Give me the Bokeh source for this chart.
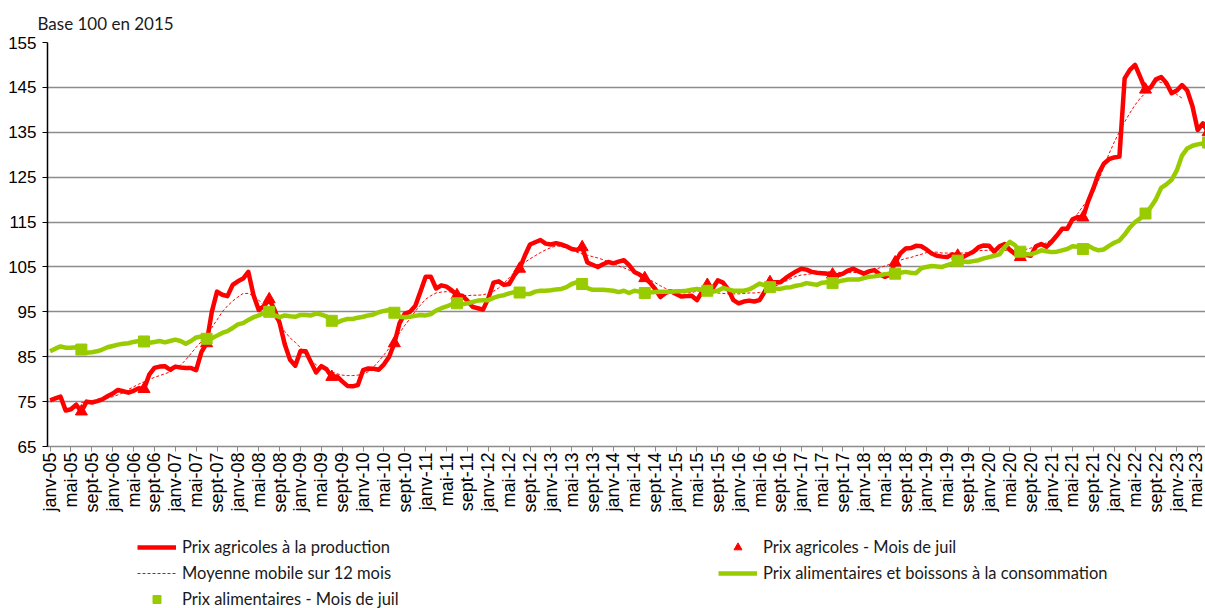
import math
from bokeh.plotting import figure
from bokeh.layouts import column
from bokeh.models import Range1d, FixedTicker, Legend, LegendItem
from bokeh.embed import file_html
from bokeh.resources import INLINE

# ---------------- data (monthly, janv-05 ... juil-23) ----------------
x_labels = [
    "janv-05", "mai-05", "sept-05", "janv-06", "mai-06", "sept-06",
    "janv-07", "mai-07", "sept-07", "janv-08", "mai-08", "sept-08",
    "janv-09", "mai-09", "sept-09", "janv-10", "mai-10", "sept-10",
    "janv-11", "mai-11", "sept-11", "janv-12", "mai-12", "sept-12",
    "janv-13", "mai-13", "sept-13", "janv-14", "mai-14", "sept-14",
    "janv-15", "mai-15", "sept-15", "janv-16", "mai-16", "sept-16",
    "janv-17", "mai-17", "sept-17", "janv-18", "mai-18", "sept-18",
    "janv-19", "mai-19", "sept-19", "janv-20", "mai-20", "sept-20",
    "janv-21", "mai-21", "sept-21", "janv-22", "mai-22", "sept-22",
    "janv-23", "mai-23",
]

y_ticks = [65, 75, 85, 95, 105, 115, 125, 135, 145, 155]

# Prix agricoles a la production
prod = [
    75.3, 75.7, 76.1, 73.0, 73.3, 74.3, 72.8, 75.0, 74.8, 75.1, 75.5, 76.2,
    76.8, 77.6, 77.3, 77.0, 77.4, 78.0, 77.8, 81.0, 82.5, 82.8, 82.9, 82.1,
    82.8, 82.6, 82.5, 82.5, 82.0, 86.0, 88.0, 95.0, 99.5, 98.8, 98.5, 101.0,
    101.8, 102.4, 103.9, 98.7, 95.4, 96.3, 97.8, 95.5, 92.5, 87.7, 84.3, 83.0,
    86.3, 86.2, 83.8, 81.5, 82.9, 82.2, 80.5, 80.6, 79.5, 78.5, 78.4, 78.7,
    82.0, 82.4, 82.3, 82.1, 83.3, 85.0, 88.0, 92.5, 94.6, 95.0, 96.3, 99.5,
    102.8, 102.8, 100.2, 100.9, 100.6, 99.8, 98.7, 98.6, 97.5, 96.1, 95.8, 95.5,
    98.0, 101.5, 101.8, 101.0, 101.2, 103.2, 104.6, 107.5, 110.0, 110.5, 111.0, 110.2,
    110.0, 110.3, 110.0, 109.6, 109.0, 108.8, 109.4, 106.0, 105.5, 105.0, 105.6, 106.1,
    105.8, 106.2, 106.5, 105.4, 103.9, 103.3, 102.5, 101.5, 100.1, 98.3, 99.2, 99.6,
    99.0, 98.4, 98.5, 98.6, 97.6, 99.5, 101.0, 100.2, 102.0, 101.5, 100.0, 97.6,
    96.9, 97.3, 97.5, 97.3, 97.6, 99.5, 101.6, 101.6, 101.6, 102.5, 103.3, 104.0,
    104.6, 104.4, 103.9, 103.7, 103.6, 103.5, 103.3, 103.1, 103.5, 104.2, 104.6, 104.0,
    103.5, 104.0, 104.3, 103.4, 102.8, 103.3, 106.0, 108.0, 109.1, 109.2, 109.7, 109.6,
    108.9, 108.0, 107.5, 107.3, 107.2, 107.8, 107.5, 107.2, 107.8, 108.4, 109.4, 109.8,
    109.7, 108.4, 109.6, 110.1, 108.8, 107.9, 107.2, 107.7, 107.5, 109.6, 110.1, 109.5,
    110.6, 112.0, 113.5, 113.5, 115.6, 116.1, 116.0, 119.6, 122.5, 125.8, 128.0, 129.0,
    129.4, 129.6, 147.0, 148.9, 150.0, 147.3, 144.5, 145.0, 146.8, 147.3, 146.0, 143.7,
    144.3, 145.5, 144.3, 140.8, 135.5, 137.0, 135.0,
]

# Prix alimentaires et boissons a la consommation
conso = [
    86.2, 86.8, 87.3, 87.0, 87.0, 87.1, 86.6, 85.9, 86.0, 86.2, 86.6, 87.1,
    87.4, 87.7, 87.9, 88.0, 88.3, 88.5, 88.4, 88.1, 88.3, 88.5, 88.2, 88.5,
    88.8, 88.5, 87.9, 88.5, 89.3, 89.5, 89.0, 89.1, 89.7, 90.3, 90.7, 91.4,
    92.2, 92.5, 93.2, 93.8, 94.2, 94.8, 95.0, 94.3, 93.8, 94.2, 94.0, 93.9,
    94.3, 94.3, 94.2, 94.6, 94.4, 94.0, 93.0, 92.6, 93.1, 93.4, 93.4, 93.7,
    93.9, 94.2, 94.4, 94.9, 95.2, 95.4, 94.8, 93.9, 93.8, 93.9, 94.1, 94.3,
    94.2, 94.5, 95.3, 95.8, 96.2, 96.7, 96.9, 96.7, 96.9, 97.2, 97.5, 97.6,
    97.6, 98.1, 98.5, 98.7, 99.1, 99.4, 99.3, 99.0, 99.0, 99.5, 99.7, 99.7,
    99.8, 100.0, 100.1, 100.5, 101.2, 101.6, 101.2, 100.3, 99.9, 99.9, 99.9, 99.8,
    99.7, 99.4, 99.7, 99.2, 99.7, 99.5, 99.2, 99.3, 99.4, 99.5, 99.5, 99.5,
    99.6, 99.6, 99.7, 99.9, 100.1, 99.9, 99.7, 99.5, 99.7, 100.3, 100.0, 99.7,
    99.7, 99.7, 100.0, 100.6, 101.3, 100.9, 100.5, 100.2, 100.1, 100.4, 100.5, 100.8,
    101.0, 101.4, 101.2, 101.0, 101.5, 101.6, 101.4, 101.7, 102.0, 102.2, 102.2, 102.2,
    102.5, 102.8, 102.9, 103.1, 103.4, 103.5, 103.5, 103.7, 103.9, 103.7, 103.6, 104.7,
    105.0, 105.2, 105.1, 105.0, 105.4, 105.8, 106.4, 106.2, 106.1, 106.3, 106.5, 106.9,
    107.2, 107.5, 107.8, 109.4, 110.6, 109.8, 108.4, 107.9, 107.8, 108.2, 108.7, 108.5,
    108.3, 108.4, 108.7, 109.0, 109.6, 109.5, 109.0, 109.7, 109.1, 108.7, 108.9, 109.7,
    110.4, 110.9, 112.2, 113.8, 115.0, 115.8, 116.9, 118.3, 120.1, 122.6, 123.4, 124.4,
    126.5, 129.8, 131.4, 132.0, 132.3, 132.5, 132.7,
]

# Moyenne mobile sur 12 mois (from juil-05)
ma_start = 6
ma12 = [
    74.8, 74.9, 75.0, 75.1, 75.5, 75.8, 76.1, 76.5, 77.0, 77.7, 78.3, 78.9,
    79.4, 79.9, 80.4, 80.8, 81.2, 81.6, 82.3, 83.1, 84.3, 85.7, 87.1, 88.4,
    89.9, 91.5, 93.2, 95.0, 96.3, 97.4, 98.3, 99.1, 99.1, 98.6, 97.6, 96.4,
    94.9, 93.7, 92.3, 90.6, 89.2, 88.2, 87.0, 85.5, 84.3, 83.2, 82.4, 82.0,
    81.6, 81.2, 80.9, 80.8, 80.8, 80.9, 81.1, 81.7, 82.7, 84.0, 85.4, 86.9,
    88.6, 90.3, 92.0, 93.5, 95.1, 96.5, 97.8, 98.6, 99.2, 99.4, 99.5, 99.4,
    99.1, 98.7, 98.6, 98.7, 98.7, 98.8, 99.1, 99.6, 100.3, 101.4, 102.6, 103.8,
    105.0, 106.0, 106.8, 107.5, 108.2, 108.8, 109.3, 109.7, 109.6, 109.2, 108.7, 108.3,
    107.9, 107.6, 107.3, 107.0, 106.6, 106.2, 105.7, 105.2, 104.8, 104.3, 103.8, 103.2,
    102.7, 102.1, 101.5, 100.8, 100.2, 99.7, 99.4, 99.3, 99.2, 99.3, 99.6, 99.7,
    99.5, 99.3, 99.2, 99.1, 99.0, 99.0, 99.0, 99.1, 99.2, 99.2, 99.3, 99.5,
    100.1, 100.7, 101.3, 101.8, 102.4, 102.9, 103.2, 103.3, 103.5, 103.6, 103.8, 103.9,
    103.9, 103.8, 103.7, 103.8, 103.8, 103.7, 103.7, 103.9, 104.3, 104.8, 105.2, 105.6,
    106.1, 106.5, 106.9, 107.1, 107.5, 107.8, 108.2, 108.3, 108.3, 108.1, 108.1, 108.1,
    108.1, 108.1, 108.2, 108.3, 108.6, 108.7, 108.7, 108.7, 108.7, 108.7, 108.8, 108.9,
    108.8, 108.9, 109.2, 109.5, 109.8, 110.4, 111.1, 111.8, 112.8, 114.1, 115.4, 116.9,
    118.5, 120.1, 121.6, 124.3, 127.3, 130.2, 132.8, 135.1, 137.3, 139.3, 141.1, 142.6,
    143.8, 145.0, 146.4, 146.1, 145.5, 144.3, 143.4, 142.6,
]

RED = "#ff0000"
GREEN = "#99cc00"
GRID = "#8c8c8c"
TXT = "#1a1a1a"

months = list(range(len(prod)))
jul_idx = list(range(6, len(prod), 12))
jul_prod = [prod[i] for i in jul_idx]
jul_conso = [conso[i] for i in jul_idx]
ma_x = list(range(ma_start, ma_start + len(ma12)))
tick_pos = list(range(0, 4 * len(x_labels), 4))

RED_LINE = dict(line_color=RED, line_width=4.5, line_join="round")
MA_LINE = dict(line_color=RED, line_width=1, line_dash="3 2")
GREEN_LINE = dict(line_color=GREEN, line_width=4.5, line_join="round")
TRI = dict(marker="triangle", fill_color=RED, line_color=RED)
SQ = dict(marker="square", fill_color=GREEN, line_color=GREEN)

# ---------------- main chart ----------------
p = figure(width=1205, height=528, output_backend="svg", toolbar_location=None,
           x_range=Range1d(-0.5, 221.5), y_range=Range1d(65, 155),
           min_border_left=47, min_border_right=0, min_border_top=42,
           min_border_bottom=82, title="Base 100 en 2015")
p.outline_line_color = None
p.background_fill_color = "white"
p.border_fill_color = "white"

p.title.align = "left"
p.title.offset = -10
p.title.text_font = "Lato"
p.title.text_font_size = "17px"
p.title.text_font_style = "normal"
p.title.text_color = TXT
p.title.standoff = 18

p.line(months, prod, **RED_LINE)
p.scatter(jul_idx, jul_prod, size=12, **TRI)
p.line(ma_x, ma12, **MA_LINE)
p.line(months, conso, **GREEN_LINE)
p.scatter(jul_idx, jul_conso, size=11, **SQ)

xa = p.xaxis[0]
xa.ticker = FixedTicker(ticks=tick_pos)
xa.major_label_overrides = {t: lab for t, lab in zip(tick_pos, x_labels)}
xa.major_label_orientation = math.pi / 2
xa.major_label_text_font = "Liberation Sans"
xa.major_label_text_font_size = "18px"
xa.major_label_text_color = "#000000"
xa.major_label_standoff = 1
xa.axis_line_color = GRID
xa.axis_line_width = 1.5
xa.major_tick_line_color = GRID
xa.major_tick_out = 5
xa.major_tick_in = 0
xa.minor_tick_line_color = None

ya = p.yaxis[0]
ya.ticker = FixedTicker(ticks=y_ticks)
ya.major_label_text_font = "Liberation Sans"
ya.major_label_text_font_size = "17px"
ya.major_label_text_color = "#000000"
ya.major_label_standoff = 6
ya.axis_line_color = "#000000"
ya.axis_line_width = 1.5
ya.major_tick_line_color = "#000000"
ya.major_tick_out = 5
ya.major_tick_in = 0
ya.minor_tick_line_color = None

p.xgrid.visible = False
p.ygrid.ticker = FixedTicker(ticks=y_ticks)
p.ygrid.grid_line_color = GRID
p.ygrid.grid_line_width = 1.5

# ---------------- legend strip (key swatches only, kept off-range) ----------------
lf = figure(width=1205, height=80, output_backend="svg", toolbar_location=None,
            x_range=Range1d(0, 1), y_range=Range1d(0, 1),
            min_border_left=0, min_border_right=0, min_border_top=0,
            min_border_bottom=0, title=None)
lf.axis.visible = False
lf.grid.visible = False
lf.outline_line_color = None
lf.background_fill_color = "white"
lf.border_fill_color = "white"

off_x = [-10, -9]
off_y = [-10, -10]
g_prod = lf.line(off_x, off_y, **RED_LINE)
g_ma = lf.line(off_x, off_y, **MA_LINE)
g_sq = lf.scatter(off_x, off_y, size=11, **SQ)
g_tri = lf.scatter(off_x, off_y, size=12, **TRI)
g_conso = lf.line(off_x, off_y, **GREEN_LINE)

leg1 = Legend(items=[
    LegendItem(label="Prix agricoles à la production", renderers=[g_prod]),
    LegendItem(label="Moyenne mobile sur 12 mois", renderers=[g_ma]),
    LegendItem(label="Prix alimentaires - Mois de juil", renderers=[g_sq]),
], location=(90, -1))
leg2 = Legend(items=[
    LegendItem(label="Prix agricoles - Mois de juil", renderers=[g_tri]),
    LegendItem(label="Prix alimentaires et boissons à la consommation", renderers=[g_conso]),
], location=(671, 25))
for lg in (leg1, leg2):
    lg.glyph_width = 39
    lg.glyph_height = 20
    lg.label_height = 20
    lg.spacing = 6
    lg.padding = 0
    lg.margin = 0
    lg.label_standoff = 6
    lg.border_line_color = None
    lg.background_fill_alpha = 0
    lg.label_text_font = "Lato"
    lg.label_text_font_size = "16.5px"
    lg.label_text_color = TXT
    lf.add_layout(lg)

layout = column(p, lf, spacing=0)
open("out.html", "w").write(file_html(layout, INLINE))
